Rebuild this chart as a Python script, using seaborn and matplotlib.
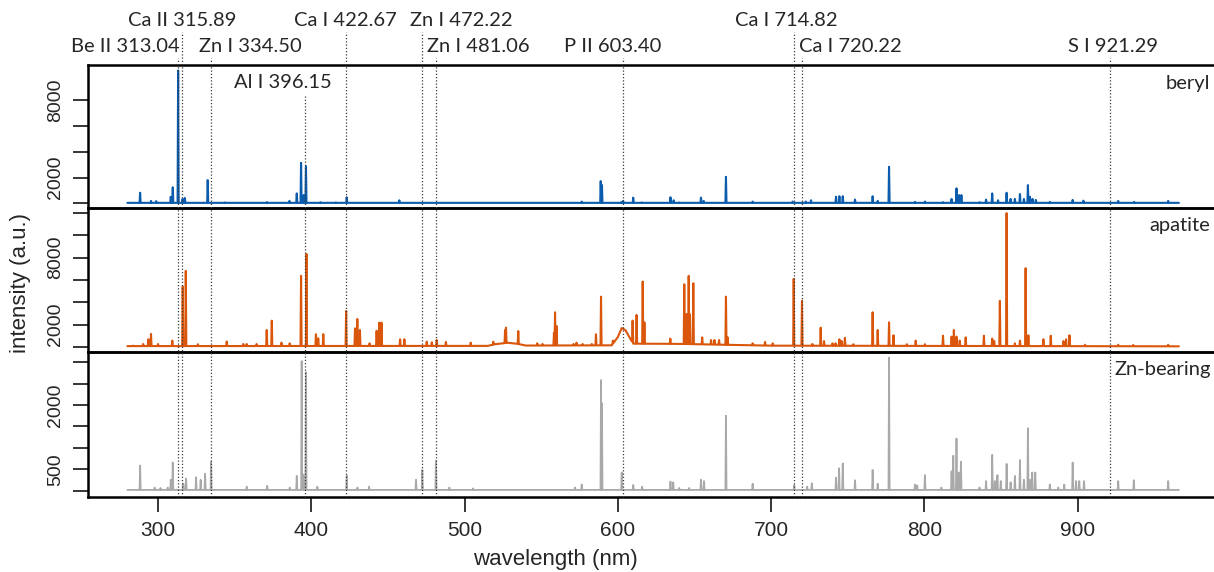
import numpy as np
import pandas as pd
import matplotlib
matplotlib.use("Agg")
import matplotlib.pyplot as plt
import seaborn as sns
from matplotlib.transforms import blended_transform_factory

# ---------------- data ----------------
beryl_wl = [288.3, 295.4, 298.8, 308.3, 309.6, 313.1, 316.0, 317.5, 332.4, 343.5, 371.0,
            385.7, 390.5, 393.3, 395.0, 396.5, 406.0, 416.0, 423.1, 457.4, 505.5, 576.4,
            588.8, 589.6, 602.1, 603.4, 610.0, 615.5, 634.3, 636.4, 640.0, 654.2, 656.0,
            670.5, 687.9, 714.0, 722.6, 726.0, 742.3, 744.5, 746.7, 754.7, 766.2, 769.5,
            776.9, 793.8, 800.3, 812.0, 817.7, 820.9, 822.6, 824.1, 835.9, 840.2, 844.2,
            848.0, 853.6, 856.2, 859.0, 862.3, 864.9, 867.5, 868.8, 870.5, 872.7, 881.8,
            896.7, 903.7, 926.4, 936.8, 959.0]
beryl_int = [830, 200, 180, 520, 1250, 10270, 350, 430, 1810, 80, 100,
             200, 780, 3140, 650, 2880, 100, 80, 480, 250, 60, 150,
             1730, 1430, 100, 200, 450, 80, 480, 250, 80, 450, 200,
             2060, 150, 150, 150, 250, 520, 560, 560, 300, 560, 200,
             2830, 120, 150, 100, 350, 1170, 650, 650, 100, 300, 780,
             250, 830, 350, 350, 730, 350, 1420, 520, 350, 280, 120,
             280, 220, 200, 120, 200]
beryl_base_wl = [280.0, 966.0]
beryl_base_int = [50, 50]

apatite_wl = [283.7, 290.3, 293.7, 295.4, 300.0, 309.3, 316.1, 318.1, 326.0, 344.8, 355.6,
              357.8, 364.3, 370.9, 374.2, 380.5, 385.9, 393.3, 396.8, 403.0, 404.5, 407.8,
              422.7, 428.5, 430.0, 431.7, 438.0, 442.6, 444.3, 445.8, 457.9, 460.7, 475.3,
              478.6, 481.8, 487.8, 504.0, 518.7, 526.4, 527.0, 535.0, 547.4, 550.8, 558.3,
              559.0, 560.0, 571.0, 573.0, 577.0, 583.0, 585.7, 589.0, 596.7, 609.6, 612.2,
              616.2, 617.3, 634.2, 643.3, 644.2, 645.0, 646.2, 647.0, 649.2, 655.0, 660.8,
              663.0, 666.0, 670.5, 671.6, 687.9, 696.0, 701.0, 714.7, 720.1, 726.9, 732.3,
              734.5, 740.0, 742.0, 744.5, 746.0, 748.1, 753.6, 766.2, 769.5, 776.9, 779.8,
              788.5, 794.3, 800.3, 812.1, 817.7, 819.2, 820.9, 823.0, 826.9, 838.8, 844.2,
              845.5, 849.2, 853.6, 859.0, 862.3, 866.0, 867.8, 877.6, 882.4, 890.7, 892.4,
              894.6, 904.8, 926.4, 936.2, 959.0]
apatite_int = [120, 270, 690, 1170, 270, 570, 5410, 6820, 250, 490, 270,
               270, 270, 1520, 2360, 390, 330, 6370, 8340, 1140, 780, 1150,
               3230, 1670, 2510, 1520, 330, 1460, 2180, 2180, 690, 690, 480,
               420, 630, 450, 390, 480, 1520, 1730, 1430, 330, 270, 1280,
               3110, 1880, 270, 390, 270, 270, 1140, 4510, 570, 2360, 2870,
               5860, 2210, 750, 5620, 2930, 2930, 6370, 2930, 5710, 860, 620,
               620, 620, 4510, 860, 330, 450, 330, 6100, 4130, 270, 1730,
               530, 330, 330, 690, 530, 820, 250, 3110, 1520, 2210, 1050,
               250, 570, 250, 1010, 930, 1520, 930, 570, 860, 1010, 750,
               530, 4130, 11990, 330, 570, 7060, 1050, 690, 1010, 530, 690,
               1050, 200, 200, 180, 200]
apatite_base_wl = [280.0, 515.0, 520.0, 528.0, 534.0, 540.0, 596.0, 600.0, 602.5, 605.0,
                   607.0, 610.0, 640.0, 700.0, 966.0]
apatite_base_int = [80, 100, 250, 380, 300, 130, 150, 900, 1700, 1500,
                    1000, 300, 280, 120, 60]

zn_wl = [288.3, 297.8, 301.6, 306.3, 308.3, 309.6, 316.5, 318.3, 324.8, 327.8, 330.7,
         334.6, 357.9, 371.2, 385.9, 390.5, 393.7, 394.8, 396.5, 403.9, 423.1, 430.1,
         437.7, 468.3, 472.4, 481.3, 490.0, 505.5, 572.0, 576.4, 589.0, 589.6, 602.5,
         610.0, 615.8, 634.3, 636.1, 640.0, 646.5, 654.2, 656.2, 670.5, 687.9, 715.0,
         723.5, 726.5, 742.3, 744.3, 746.7, 754.7, 766.2, 769.5, 776.9, 793.8, 795.3,
         800.3, 811.0, 817.7, 818.8, 820.9, 822.4, 823.8, 835.9, 840.2, 844.2, 845.9,
         847.6, 849.8, 853.6, 856.2, 859.0, 862.3, 864.9, 867.5, 868.8, 870.3, 872.3,
         881.8, 887.3, 891.2, 896.7, 898.9, 901.0, 904.1, 926.4, 936.6, 959.0]
zn_int = [590, 80, 70, 80, 260, 660, 170, 290, 320, 260, 400,
          680, 100, 120, 80, 350, 3020, 380, 2760, 100, 360, 80,
          100, 260, 490, 700, 80, 60, 80, 150, 2580, 2040, 430,
          140, 100, 220, 200, 70, 70, 260, 230, 1750, 170, 140,
          100, 180, 310, 530, 640, 250, 490, 170, 3100, 150, 130,
          370, 80, 460, 820, 1220, 430, 680, 80, 230, 840, 230,
          370, 230, 630, 200, 350, 720, 260, 1460, 260, 430, 430,
          150, 80, 150, 660, 230, 230, 230, 230, 250, 230]
zn_base_wl = [280.0, 966.0]
zn_base_int = [25, 25]

panel_names = ["beryl", "apatite", "Zn-bearing"]
panel_colors = ["#0b5cad", "#d9560b", "#a9a9a9"]

marker_wl = [313.04, 315.89, 334.50, 396.15, 422.67, 472.22, 481.06, 603.40, 714.82, 720.22, 921.29]
marker_labels = ["Be II 313.04", "Ca II 315.89", "Zn I 334.50", "Al I 396.15", "Ca I 422.67",
                 "Zn I 472.22", "Zn I 481.06", "P II 603.40", "Ca I 714.82", "Ca I 720.22",
                 "S I 921.29"]
marker_row = [2, 1, 2, 3, 1, 1, 2, 2, 1, 2, 2]
marker_text_x = [278.5, 315.7, 360.3, 381.5, 422.3, 498.0, 509.1, 596.8, 709.7, 751.4, 923.0]

y_ticks = [[0, 2000, 4000, 6000, 8000], list(range(0, 12001, 2000)), list(range(0, 3001, 500))]
y_shown = [[2000, 8000], [2000, 8000], [500, 2000]]
y_limits = [(-348, 10700), (-448, 12450), (-140, 3233)]
x_ticks = [300, 400, 500, 600, 700, 800, 900]


def build_spectrum(wl, inten, base_wl, base_int, hw=0.35):
    order = np.argsort(wl)
    p = np.asarray(wl, float)[order]
    h = np.asarray(inten, float)[order]
    xs, ys = [], []
    spans = []
    for i in range(len(p)):
        lo = p[i] - hw if i == 0 else max(p[i] - hw, (p[i - 1] + p[i]) / 2 + 0.01)
        hi = p[i] + hw if i == len(p) - 1 else min(p[i] + hw, (p[i] + p[i + 1]) / 2 - 0.01)
        spans.append((lo, hi))
        xs += [lo, p[i], hi]
        ys += [np.interp(lo, base_wl, base_int), h[i], np.interp(hi, base_wl, base_int)]
    for bx, by in zip(base_wl, base_int):
        if not any(lo <= bx <= hi for lo, hi in spans):
            xs.append(bx)
            ys.append(by)
    xs = np.array(xs)
    ys = np.array(ys)
    o = np.argsort(xs, kind="stable")
    return pd.DataFrame({"wavelength": xs[o], "intensity": ys[o]})


spectra = [
    build_spectrum(beryl_wl, beryl_int, beryl_base_wl, beryl_base_int),
    build_spectrum(apatite_wl, apatite_int, apatite_base_wl, apatite_base_int),
    build_spectrum(zn_wl, zn_int, zn_base_wl, zn_base_int),
]

# ---------------- figure ----------------
sns.set_style("ticks")
plt.rcParams["font.family"] = ["Liberation Sans", "DejaVu Sans"]
ANN_FONT = ["Lato", "DejaVu Sans"]

W, H = 1214, 572
fig = plt.figure(figsize=(W / 100, H / 100), dpi=100)

left_px, right_px = 88, 1214
panel_px = [(65, 208), (208, 352), (352, 497)]
name_y_px = [83, 225, 370]
xlim = (254.3, 988.9)

axes = []
for i, (t, b) in enumerate(panel_px):
    ax = fig.add_axes([left_px / W, 1 - b / H, (right_px - left_px) / W, (b - t) / H])
    ax.patch.set_visible(False)
    df = spectra[i]
    sns.lineplot(data=df, x="wavelength", y="intensity", ax=ax, color=panel_colors[i],
                 lw=1.5 if i < 2 else 1.3, sort=False, estimator=None)
    ax.set_xlim(*xlim)
    ax.set_ylim(*y_limits[i])
    ax.set_yticks(y_ticks[i])
    ax.set_yticklabels([str(v) if v in y_shown[i] else "" for v in y_ticks[i]])
    ax.tick_params(axis="y", length=11, width=1.1, labelsize=14, pad=6, color="black")
    for lab in ax.get_yticklabels():
        lab.set_rotation(90)
        lab.set_va("center")
    ax.set_xlabel("")
    ax.set_ylabel("")
    for s in ["left", "top", "bottom"]:
        ax.spines[s].set_visible(True)
        ax.spines[s].set_linewidth(1.8)
        ax.spines[s].set_color("black")
    ax.spines["right"].set_visible(False)
    if i < 2:
        ax.set_xticks([])
    else:
        ax.set_xticks(x_ticks)
        ax.set_xticklabels([str(v) for v in x_ticks])
        ax.tick_params(axis="x", length=11, width=1.1, labelsize=15, pad=6, color="black")
    ax.text(0.997, 1 - (name_y_px[i] - t) / (b - t), panel_names[i], transform=ax.transAxes,
            ha="right", va="center", fontsize=14.5, family=ANN_FONT)
    axes.append(ax)

# vertical dotted marker lines and their labels
top_ax = axes[-1]
tr = blended_transform_factory(top_ax.transData, fig.transFigure)
row_text_y = {1: 1 - 21 / H, 2: 1 - 47 / H, 3: 1 - 83 / H}
row_line_top = {1: 1 - 32 / H, 2: 1 - 58 / H, 3: 1 - 94 / H}
y_bottom = 1 - 497 / H
for wl, lab, row, tx in zip(marker_wl, marker_labels, marker_row, marker_text_x):
    top_ax.plot([wl, wl], [y_bottom, row_line_top[row]], transform=tr, clip_on=False,
                color="#3a3a3a", lw=0.9, ls=(0, (1, 1.6)), zorder=5)
    top_ax.text(tx, row_text_y[row], lab, transform=tr, ha="center", va="center",
                fontsize=14.5, family=ANN_FONT, clip_on=False)

fig.text(555 / W, 1 - 560 / H, "wavelength (nm)", ha="center", va="center", fontsize=16)
fig.text(21 / W, 1 - 283 / H, "intensity (a.u.)", ha="center", va="center", fontsize=16,
         rotation=90)

fig.savefig("out.png", dpi=100)
